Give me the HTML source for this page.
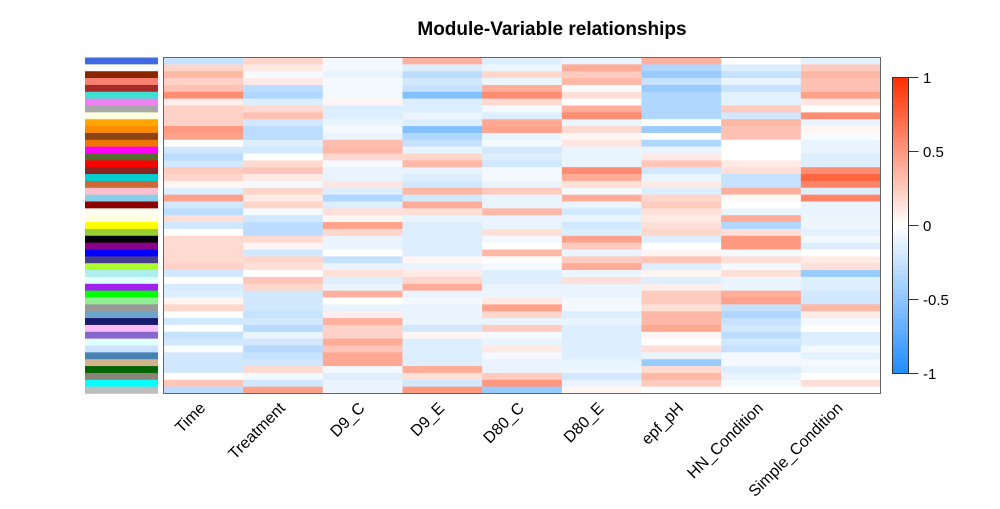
<!DOCTYPE html>
<html><head><meta charset="utf-8"><style>
html,body{margin:0;padding:0;background:#fff;}
svg{display:block;font-family:"Liberation Sans",sans-serif;}
</style></head><body>
<svg id="chart" width="1000" height="509" viewBox="0 0 1000 509">
<text x="552" y="35" text-anchor="middle" font-size="19" font-weight="bold">Module-Variable relationships</text>
<g id="modules"></g>
<g id="cells"></g>
<rect x="163.5" y="57.5" width="717" height="336" fill="none" stroke="#666" stroke-width="1"/>
<g id="xlabels"></g>
<g id="legend"></g>
</svg>
<script>
const variables = ["Time","Treatment","D9_C","D9_E","D80_C","D80_E","epf_pH","HN_Condition","Simple_Condition"];
const moduleColors = ["royalblue","white","#8b2500","salmon","brown","turquoise","violet","darkgrey","lightyellow","orange","darkorange","saddlebrown","#ee7600","magenta","darkolivegreen","red","#8b2323","darkturquoise","#cd6839","pink","skyblue","darkred","ivory","lightyellow","yellow","yellowgreen","black","darkmagenta","blue","darkslateblue","greenyellow","paleturquoise","lightcyan","#a020f0","lime","lightgreen","#999999","#6ca6cd","midnightblue","#ffbbff","#8968cd","#e0ffff","#cae1ff","steelblue","tan","darkgreen","#8b8378","cyan","#bebebe"];
const valTime = [-0.25,0.2,0.35,0.22,0.3,0.55,0.08,0.22,0.22,0.22,0.5,0.45,0,-0.2,-0.3,-0.2,0.25,0.2,0.05,-0.15,0.45,-0.2,-0.3,0.15,-0.2,0,0.18,0.18,0.18,0.18,0.22,-0.2,0,-0.18,-0.15,0.05,0.2,0,-0.2,0,-0.25,-0.2,-0.03,-0.2,-0.2,-0.2,0,0.28,-0.3];
const valTreatment = [0.2,0.1,-0.05,0.1,-0.3,-0.35,-0.15,0.18,0.3,-0.2,-0.3,-0.3,-0.15,-0.2,0,0.18,0.28,0.1,-0.05,0.2,0.1,0.2,-0.05,-0.2,-0.3,-0.3,0.18,0.05,-0.2,0.2,0.15,0,0.28,0.2,-0.2,-0.2,-0.2,-0.25,-0.2,-0.32,-0.1,-0.2,-0.32,-0.25,-0.2,0.18,-0.05,-0.2,0.45];
const valD9C = [-0.05,-0.05,-0.1,-0.05,-0.05,-0.05,0.05,-0.15,-0.15,-0.1,-0.05,-0.1,0.32,0.35,0.2,-0.05,-0.1,-0.1,0.12,-0.15,-0.35,-0.15,0.15,0.05,0.45,0.2,-0.1,-0.1,0,-0.25,-0.1,0.15,-0.15,-0.1,0.38,0,-0.1,0.08,0.38,0.22,0.22,0.4,0.28,0.42,0.42,-0.05,-0.15,-0.1,-0.1];
const valD9E = [0.38,-0.15,-0.3,-0.2,-0.25,-0.55,-0.15,-0.15,-0.1,-0.15,-0.55,-0.35,-0.25,-0.1,0.2,0.35,-0.1,-0.15,-0.2,0.35,-0.2,0.4,0.15,-0.1,-0.15,-0.15,-0.15,-0.15,-0.15,0.05,-0.1,0.1,0.2,0.4,-0.1,-0.05,-0.1,-0.1,-0.1,-0.2,0.05,-0.15,-0.15,-0.15,-0.15,0.4,0.15,-0.2,0.5];
const valD80C = [-0.15,-0.08,0.2,-0.08,0.4,0.55,0.18,-0.05,-0.15,0.42,0.45,-0.1,-0.05,-0.2,-0.15,-0.2,-0.05,-0.05,-0.1,0.25,-0.1,-0.1,0.35,-0.1,-0.1,0.15,-0.05,0,0.35,0,-0.05,-0.15,-0.15,-0.1,-0.08,0.1,0.45,0.2,-0.1,0.25,-0.05,-0.1,0.1,-0.05,-0.1,-0.1,0.25,0.5,-0.45];
const valD80E = [-0.1,0.4,0.25,0.35,-0.03,0.15,0,0.4,0.55,-0.1,0.18,0.05,0.12,-0.1,-0.1,-0.1,0.55,0.4,0.15,-0.05,0.4,-0.1,-0.2,-0.1,-0.2,-0.15,0.45,0.25,-0.1,0.25,0.4,-0.08,0.15,-0.1,-0.1,-0.05,-0.05,-0.15,-0.1,-0.15,-0.15,-0.15,-0.15,-0.15,-0.1,-0.08,-0.2,-0.1,0.05];
const valPH = [0.38,-0.35,-0.45,-0.25,-0.45,-0.35,-0.35,-0.35,-0.35,0,-0.45,0,-0.35,-0.1,0.1,0.28,-0.2,-0.1,0.1,-0.15,0.2,0.25,0.15,0.1,0.15,0.2,-0.15,0,0.05,0.28,-0.15,0.05,-0.15,0.08,0.25,0.25,0.15,0.35,0.35,0.42,0.05,0,0.15,-0.1,-0.45,0.18,0.35,0.25,0];
const valHN = [0,-0.15,-0.25,-0.1,-0.25,-0.12,-0.12,0.25,-0.2,0.35,0.3,0.3,0,0,0,0.1,0.15,-0.25,-0.25,0.38,0.03,0,-0.1,0.4,-0.35,0.15,0.5,0.5,-0.05,0.15,-0.05,0.15,-0.1,-0.1,0.4,0.45,-0.25,-0.35,-0.25,-0.2,-0.3,-0.2,-0.25,-0.05,-0.05,-0.15,-0.1,-0.05,0];
const valSimple = [-0.12,0.25,0.35,0.3,0.3,0.45,0.12,0,0.55,-0.1,0.05,-0.03,-0.1,-0.1,-0.15,-0.15,0.55,0.75,0.6,-0.15,0.6,-0.1,-0.1,-0.08,-0.08,-0.12,-0.05,-0.15,0,0.1,0.15,-0.45,-0.15,-0.15,-0.2,-0.2,0.35,0.1,-0.05,0,-0.15,-0.15,-0.05,-0.12,-0.05,-0.08,0,0.15,-0.02];
const legendTicks = [1,0.5,0,-0.5,-1];

const series = [valTime,valTreatment,valD9C,valD9E,valD80C,valD80E,valPH,valHN,valSimple];
const NS = "http://www.w3.org/2000/svg";
const X0 = 163.5, X1 = 880.5, Y0 = 57.5, Y1 = 393.5;
const nR = moduleColors.length, nC = variables.length;
const cw = (X1 - X0) / nC, rh = (Y1 - Y0) / nR;
function xPos(c){ return X0 + c*cw; }
function yPos(r){ return Y0 + r*rh; }
function colorOf(v){
  v = Math.max(-1, Math.min(1, v));
  let r,g,b;
  if (v >= 0){ r = 255; g = 255 + (48-255)*v; b = 255 + (0-255)*v; }
  else { const t=-v; r = 255 + (30-255)*t; g = 255 + (140-255)*t; b = 255; }
  return `rgb(${Math.round(r)},${Math.round(g)},${Math.round(b)})`;
}
function mk(tag, attrs){ const e=document.createElementNS(NS,tag); for(const k in attrs) e.setAttribute(k, attrs[k]); return e; }

const gm = document.getElementById('modules');
moduleColors.forEach((c,i)=>{
  const r = mk('rect',{x:85,y:yPos(i),width:73,height:rh+0.3,fill:c});
  
  
  gm.appendChild(r);
});
const gc = document.getElementById('cells');
series.forEach((arr,c)=>{
  arr.forEach((v,r)=>{
    const e = mk('rect',{x:xPos(c),y:yPos(r),width:cw+0.3,height:rh+0.3,fill:colorOf(v)});
    
    
    gc.appendChild(e);
  });
});
const gx = document.getElementById('xlabels');
variables.forEach((name,c)=>{
  const cx = xPos(c) + cw/2 + 3, cy = 409;
  const t = mk('text',{x:cx,y:cy,'text-anchor':'end','font-size':16,transform:`rotate(-45 ${cx} ${cy})`});
  t.textContent = name;
  
  
  gx.appendChild(t);
});
const gl = document.getElementById('legend');
const LY0 = 77.5, LY1 = 373.5, LX = 892.5, LW = 16;
function lY(v){ return LY0 + (1 - v) / 2 * (LY1 - LY0); }
const steps = 60;
for (let i=0;i<steps;i++){
  const v = 1 - (i+0.5)*2/steps;
  const r = mk('rect',{x:LX,y:LY0 + i*(LY1-LY0)/steps,width:LW,height:(LY1-LY0)/steps+0.4,fill:colorOf(v)});
  
  
  gl.appendChild(r);
}
const lb = mk('rect',{x:LX,y:LY0,width:LW,height:LY1-LY0,fill:'none',stroke:'#333','stroke-width':1});


gl.appendChild(lb);
legendTicks.forEach(v=>{
  const y = lY(v);
  const l = mk('line',{x1:LX+LW,x2:LX+LW+10,y1:y,y2:y,stroke:'#333','stroke-width':1});
  
  
  gl.appendChild(l);
  const t = mk('text',{x:923,y:y+5.5,'font-size':15});
  t.textContent = String(v);
  
  
  gl.appendChild(t);
});
</script>
</body></html>
